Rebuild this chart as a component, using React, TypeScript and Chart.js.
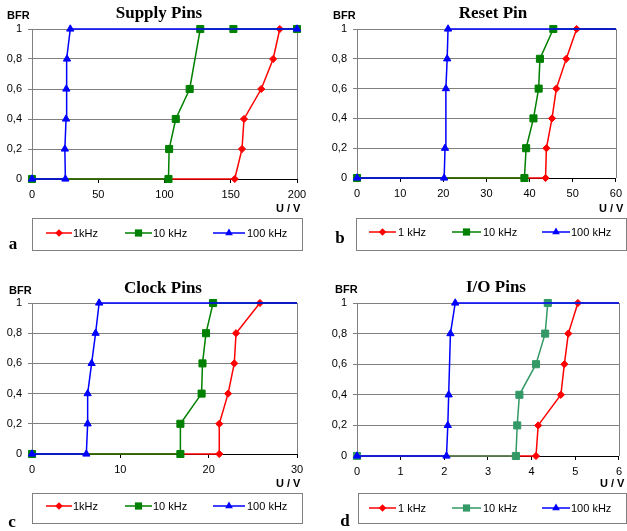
import React, { useEffect, useRef } from 'react';
import { Chart, registerables } from 'chart.js';
Chart.register(...registerables);

const FONT = '"Liberation Sans", Arial, sans-serif';
const SERIF = '"Liberation Serif", "Times New Roman", serif';

const RED = '#FF0000';
const GREEN = '#008000';
const SEAGREEN = '#339966';
const BLUE = '#0000FF';

// ---- Data (U / V on x, BFR on y) ----
const bfrFull = [0, 0, 0.2, 0.4, 0.6, 0.8, 1, 1];

// a) Supply Pins
const supplyU1k = [0, 153, 158.5, 160, 173, 182, 187, 200];
const supplyB1k = bfrFull;
const supplyU10k = [0, 103, 103.5, 108.5, 119, 127, 152, 200];
const supplyB10k = [0, 0, 0.2, 0.4, 0.6, 1, 1, 1];
const supplyU100k = [0, 25.2, 24.8, 25.7, 25.9, 26.4, 28.9, 200];
const supplyB100k = bfrFull;

// b) Reset Pin
const resetU1k = [0, 43.7, 43.9, 45.2, 46.2, 48.5, 50.9, 60];
const resetB1k = bfrFull;
const resetU10k = [0, 38.8, 39.2, 40.9, 42.1, 42.4, 45.5, 60];
const resetB10k = bfrFull;
const resetU100k = [0, 20.2, 20.4, 20.6, 20.9, 21.1, 60];
const resetB100k = [0, 0, 0.2, 0.6, 0.8, 1, 1];

// c) Clock Pins
const clockU1k = [0, 21.2, 21.2, 22.2, 22.9, 23.1, 25.8, 30];
const clockB1k = bfrFull;
const clockU10k = [0, 16.8, 16.8, 19.2, 19.3, 19.7, 20.5, 30];
const clockB10k = bfrFull;
const clockU100k = [0, 6.15, 6.3, 6.3, 6.75, 7.2, 7.6, 30];
const clockB100k = bfrFull;

// d) I/O Pins
const ioU1k = [0, 4.1, 4.15, 4.67, 4.75, 4.84, 5.06, 6];
const ioB1k = bfrFull;
const ioU10k = [0, 3.64, 3.67, 3.72, 4.1, 4.31, 4.37, 6];
const ioB10k = bfrFull;
const ioU100k = [0, 2.05, 2.08, 2.1, 2.14, 2.25, 6];
const ioB100k = [0, 0, 0.2, 0.4, 0.8, 1, 1];

type Style = 'rectRot' | 'rect' | 'triangle';
type Series = { label: string; xs: number[]; ys: number[]; color: string; style: Style };
type LegendItem = { l1: number; l2: number; tx: number };
type PanelCfg = {
  x0: number; y0: number; w: number;
  plot: { l: number; t: number; r: number; b: number };
  xMax: number; xStep: number;
  title: string; titleX: number; titleY: number;
  bfrX: number; bfrY: number;
  uvX: number; uvY: number;
  letter: string; letterX: number; letterY: number;
  endMarkers: boolean;
  series: Series[];
  legendBox: { l: number; t: number; w: number; h: number };
  legendY: number;
  legendItems: LegendItem[];
};

const radiusFor = (s: Style) => (s === 'rectRot' ? 3.6 : s === 'rect' ? 5.0 : 4.2);

const commaTick = (v: number | string) => {
  const r = Math.round(Number(v) * 10) / 10;
  return String(r).replace('.', ',');
};

const framePlugin = {
  id: 'rightFrame',
  beforeDatasetsDraw(chart: any) {
    const { ctx, chartArea } = chart;
    const x = Math.round(chartArea.right) + 0.5;
    ctx.save();
    ctx.strokeStyle = '#808080';
    ctx.lineWidth = 1;
    ctx.beginPath();
    ctx.moveTo(x, chartArea.top);
    ctx.lineTo(x, chartArea.bottom);
    ctx.stroke();
    ctx.restore();
  },
};

function ChartPanel({ cfg }: { cfg: PanelCfg }) {
  const ref = useRef<HTMLCanvasElement>(null);
  const h = cfg.plot.b - cfg.y0 + 24;
  useEffect(() => {
    const yW = cfg.plot.l - cfg.x0;
    const chart = new Chart(ref.current as HTMLCanvasElement, {
      type: 'scatter',
      data: {
        datasets: cfg.series.map((s, k) => {
          const last = s.xs.length - 1;
          const r = radiusFor(s.style);
          return {
            label: s.label,
            data: s.xs.map((x, i) => ({ x, y: s.ys[i] })),
            showLine: true,
            borderColor: s.color,
            backgroundColor: s.color,
            borderWidth: 1.5,
            pointStyle: s.style,
            pointRadius: (c: any) => (!cfg.endMarkers && c.dataIndex === last ? 0 : r),
            pointBorderWidth: 1,
            pointHoverRadius: 0,
            order: 3 - k,
            clip: false as any,
            tension: 0,
          };
        }),
      },
      options: {
        responsive: false,
        animation: false,
        events: [],
        layout: {
          padding: {
            top: cfg.plot.t - cfg.y0,
            right: cfg.x0 + cfg.w - cfg.plot.r,
            left: 0,
            bottom: 0,
          },
        },
        plugins: { legend: { display: false }, tooltip: { enabled: false }, title: { display: false } },
        scales: {
          x: {
            type: 'linear',
            min: 0,
            max: cfg.xMax,
            ticks: { stepSize: cfg.xStep, color: '#000', font: { family: FONT, size: 11 }, padding: 5, maxRotation: 0, autoSkip: false },
            grid: { drawOnChartArea: false, drawTicks: true, tickLength: 4, color: '#000' },
            border: { color: '#000', width: 1 },
            afterFit: (s: any) => { s.height = 24; },
          },
          y: {
            type: 'linear',
            min: 0,
            max: 1,
            ticks: { stepSize: 0.2, callback: commaTick, color: '#000', font: { family: FONT, size: 11 }, padding: 6 },
            grid: { color: '#808080', drawTicks: true, tickLength: 4 },
            border: { color: '#808080', width: 1 },
            afterFit: (s: any) => { s.width = yW; },
          },
        },
      } as any,
      plugins: [framePlugin],
    });
    return () => chart.destroy();
  }, [cfg]);
  return (
    <canvas
      ref={ref}
      width={cfg.w}
      height={h}
      style={{ position: 'absolute', left: cfg.x0, top: cfg.y0, width: cfg.w, height: h }}
    />
  );
}

function Marker({ style, color, cx, cy }: { style: Style; color: string; cx: number; cy: number }) {
  if (style === 'rectRot') {
    const r = 3.8;
    return <polygon points={`${cx},${cy - r} ${cx + r},${cy} ${cx},${cy + r} ${cx - r},${cy}`} fill={color} />;
  }
  if (style === 'rect') {
    const s = 3.6;
    return <rect x={cx - s} y={cy - s} width={2 * s} height={2 * s} fill={color} />;
  }
  const r = 4.4;
  return <polygon points={`${cx},${cy - r} ${cx + r * 0.87},${cy + r * 0.5} ${cx - r * 0.87},${cy + r * 0.5}`} fill={color} />;
}

function Text({ x, y, children, style, anchor = 'center' }: any) {
  const tx = anchor === 'center' ? '-50%' : anchor === 'right' ? '-100%' : '0';
  return (
    <div
      style={{
        position: 'absolute', left: x, top: y, transform: `translate(${tx}, -50%)`,
        whiteSpace: 'nowrap', lineHeight: 1, ...style,
      }}
    >
      {children}
    </div>
  );
}

function Panel({ cfg }: { cfg: PanelCfg }) {
  return (
    <>
      <ChartPanel cfg={cfg} />
      <Text x={cfg.titleX} y={cfg.titleY} style={{ fontFamily: SERIF, fontWeight: 'bold', fontSize: 17 }}>{cfg.title}</Text>
      <Text x={cfg.bfrX} y={cfg.bfrY} anchor="left" style={{ fontFamily: FONT, fontWeight: 'bold', fontSize: 11 }}>BFR</Text>
      <Text x={cfg.uvX} y={cfg.uvY} anchor="left" style={{ fontFamily: FONT, fontWeight: 'bold', fontSize: 11 }}>U / V</Text>
      <div
        style={{
          position: 'absolute', left: cfg.legendBox.l, top: cfg.legendBox.t,
          width: cfg.legendBox.w, height: cfg.legendBox.h, border: '1px solid #808080', boxSizing: 'border-box', background: '#fff',
        }}
      />
      {cfg.legendItems.map((it, i) => {
        const s = cfg.series[i];
        const wid = it.l2 - it.l1;
        return (
          <React.Fragment key={i}>
            <svg
              width={wid}
              height={12}
              style={{ position: 'absolute', left: it.l1, top: cfg.legendY - 6, overflow: 'visible' }}
            >
              <line x1={0} y1={6} x2={wid} y2={6} stroke={s.color} strokeWidth={1.5} />
              <Marker style={s.style} color={s.color} cx={wid / 2} cy={6} />
            </svg>
            <Text x={it.tx} y={cfg.legendY} anchor="left" style={{ fontFamily: FONT, fontSize: 11 }}>{s.label}</Text>
          </React.Fragment>
        );
      })}
      <Text x={cfg.letterX} y={cfg.letterY} style={{ fontFamily: SERIF, fontWeight: 'bold', fontSize: 17 }}>{cfg.letter}</Text>
    </>
  );
}

const legendLeft: LegendItem[] = [
  { l1: 46, l2: 72, tx: 73 },
  { l1: 125, l2: 152, tx: 153 },
  { l1: 213, l2: 245, tx: 247 },
];
const legendRight: LegendItem[] = [
  { l1: 369, l2: 396, tx: 398 },
  { l1: 452, l2: 481, tx: 483 },
  { l1: 542, l2: 570, tx: 571 },
];

const panels: PanelCfg[] = [
  {
    x0: 0, y0: 0, w: 314, plot: { l: 32, t: 29, r: 297, b: 179 }, xMax: 200, xStep: 50,
    title: 'Supply Pins', titleX: 159, titleY: 12, bfrX: 7, bfrY: 15, uvX: 276, uvY: 208,
    letter: 'a', letterX: 13, letterY: 243, endMarkers: true,
    series: [
      { label: '1kHz', xs: supplyU1k, ys: supplyB1k, color: RED, style: 'rectRot' },
      { label: '10 kHz', xs: supplyU10k, ys: supplyB10k, color: GREEN, style: 'rect' },
      { label: '100 kHz', xs: supplyU100k, ys: supplyB100k, color: BLUE, style: 'triangle' },
    ],
    legendBox: { l: 32, t: 218, w: 271, h: 33 }, legendY: 233, legendItems: legendLeft,
  },
  {
    x0: 314, y0: 0, w: 313, plot: { l: 357, t: 29, r: 621, b: 178 }, xMax: 60, xStep: 10,
    title: 'Reset Pin', titleX: 493, titleY: 12, bfrX: 333, bfrY: 15, uvX: 599, uvY: 208,
    letter: 'b', letterX: 340, letterY: 237, endMarkers: false,
    series: [
      { label: '1 kHz', xs: resetU1k, ys: resetB1k, color: RED, style: 'rectRot' },
      { label: '10 kHz', xs: resetU10k, ys: resetB10k, color: GREEN, style: 'rect' },
      { label: '100 kHz', xs: resetU100k, ys: resetB100k, color: BLUE, style: 'triangle' },
    ],
    legendBox: { l: 356, t: 218, w: 271, h: 33 }, legendY: 232, legendItems: legendRight,
  },
  {
    x0: 0, y0: 265, w: 314, plot: { l: 32, t: 303, r: 297, b: 454 }, xMax: 30, xStep: 10,
    title: 'Clock Pins', titleX: 163, titleY: 287, bfrX: 9, bfrY: 290, uvX: 276, uvY: 483,
    letter: 'c', letterX: 12, letterY: 521, endMarkers: false,
    series: [
      { label: '1kHz', xs: clockU1k, ys: clockB1k, color: RED, style: 'rectRot' },
      { label: '10 kHz', xs: clockU10k, ys: clockB10k, color: GREEN, style: 'rect' },
      { label: '100 kHz', xs: clockU100k, ys: clockB100k, color: BLUE, style: 'triangle' },
    ],
    legendBox: { l: 32, t: 493, w: 271, h: 31 }, legendY: 506, legendItems: legendLeft,
  },
  {
    x0: 314, y0: 265, w: 313, plot: { l: 357, t: 303, r: 621, b: 456 }, xMax: 6, xStep: 1,
    title: 'I/O Pins', titleX: 496, titleY: 286, bfrX: 335, bfrY: 289, uvX: 600, uvY: 483,
    letter: 'd', letterX: 345, letterY: 520, endMarkers: false,
    series: [
      { label: '1 kHz', xs: ioU1k, ys: ioB1k, color: RED, style: 'rectRot' },
      { label: '10 kHz', xs: ioU10k, ys: ioB10k, color: SEAGREEN, style: 'rect' },
      { label: '100 kHz', xs: ioU100k, ys: ioB100k, color: BLUE, style: 'triangle' },
    ],
    legendBox: { l: 358, t: 493, w: 269, h: 31 }, legendY: 508, legendItems: legendRight,
  },
];

export default function App() {
  return (
    <div style={{ position: 'absolute', left: 0, top: 0, width: 627, height: 531, background: '#fff', overflow: 'hidden' }}>
      {panels.map((p, i) => <Panel key={i} cfg={p} />)}
    </div>
  );
}
